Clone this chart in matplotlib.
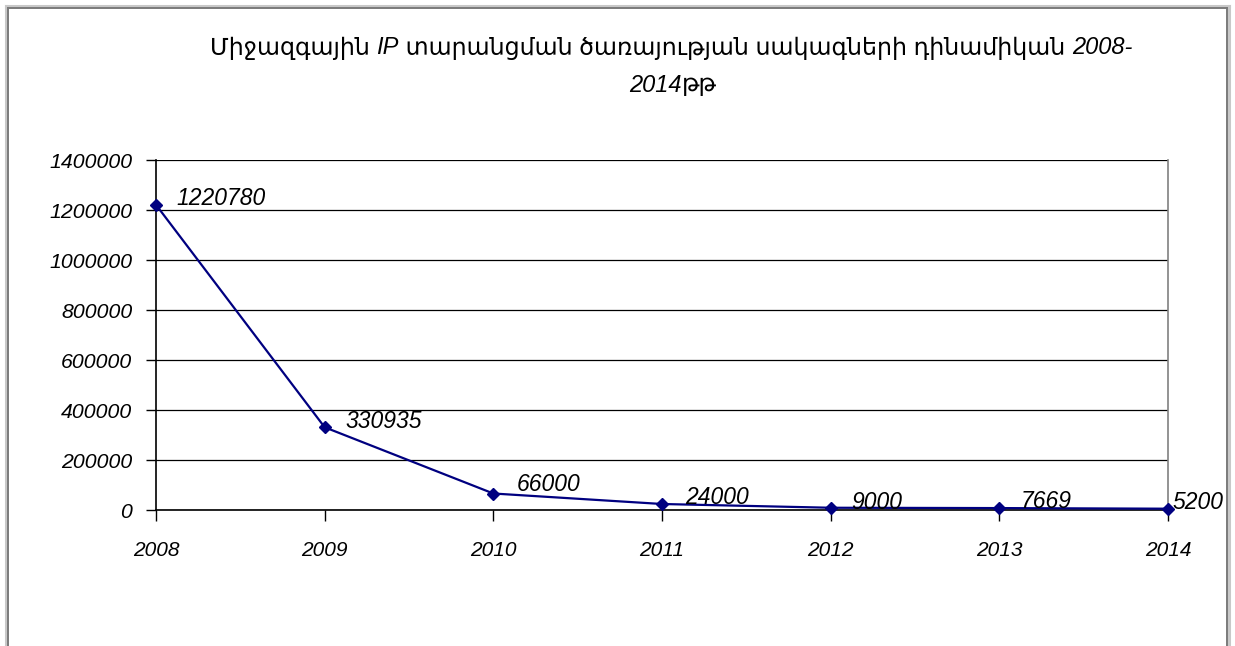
import matplotlib
matplotlib.use("Agg")
import matplotlib.pyplot as plt
from matplotlib.lines import Line2D

years = [2008, 2009, 2010, 2011, 2012, 2013, 2014]
rates = [1220780, 330935, 66000, 24000, 9000, 7669, 5200]
yticks = [0, 200000, 400000, 600000, 800000, 1000000, 1200000, 1400000]

FAM = ['Liberation Sans', 'DejaVu Sans']
plt.rcParams['font.family'] = FAM

W, H = 1235, 646
fig = plt.figure(figsize=(W / 100, H / 100), dpi=100)
fig.patch.set_facecolor('white')

# outer frame (like the embedded chart border)
def fx(px):
    return px / W
def fy(py):
    return 1 - py / H
for off, col, lw in [(6, '#c8c8c8', 2.2), (8, '#7a7a7a', 1.4)]:
    x0, x1 = fx(off), fx(W - off)
    y0 = fy(off)
    fig.add_artist(Line2D([x0, x1], [y0, y0], color=col, lw=lw, transform=fig.transFigure))
    fig.add_artist(Line2D([x0, x0], [y0, -0.01], color=col, lw=lw, transform=fig.transFigure))
    fig.add_artist(Line2D([x1, x1], [y0, -0.01], color=col, lw=lw, transform=fig.transFigure))

ax = fig.add_axes([fx(156), fy(510), fx(1168) - fx(156), fy(160) - fy(510)])
ax.set_xlim(years[0], years[-1])
ax.set_ylim(0, 1400000)
ax.set_yticks(yticks)
ax.set_yticklabels([str(v) for v in yticks], fontsize=15.3, fontstyle='italic')
ax.set_xticks(years)
ax.set_xticklabels([str(y) for y in years], fontsize=15, fontstyle='italic')
ax.grid(axis='y', color='black', lw=0.9)
ax.set_axisbelow(True)
for s in ['left', 'bottom']:
    ax.spines[s].set_color('black')
    ax.spines[s].set_linewidth(1.2)
ax.spines['top'].set_visible(False)
ax.spines['right'].set_color('#808080')
ax.spines['right'].set_linewidth(1.2)
ax.tick_params(axis='y', direction='out', length=7, width=1, pad=10)
ax.tick_params(axis='x', direction='out', length=8, width=1, pad=14)

ax.plot(years, rates, color='#000080', lw=1.6, marker='D', markersize=6,
        markerfacecolor='#000080', markeredgecolor='#000080', clip_on=False, zorder=5)

offsets = [(20, 6), (21, 6), (23, 9), (23, 7), (21, 5), (21, 7), (4, 6)]
for x, y, (dx, dy) in zip(years, rates, offsets):
    ax.annotate(str(y), (x, y), xytext=(dx, dy), textcoords='offset pixels',
                ha='left', va='center', fontsize=16.5, fontstyle='italic', zorder=6)

# title with mixed italic segments
def draw_line(parts, cy, cx):
    r = fig.canvas.get_renderer()
    texts = []
    for s, it in parts:
        t = fig.text(0, fy(cy), s, fontsize=17, fontstyle='italic' if it else 'normal',
                     ha='left', va='center', family=FAM)
        texts.append(t)
    widths = [t.get_window_extent(r).width for t in texts]
    total = sum(widths)
    x = cx - total / 2
    for t, w in zip(texts, widths):
        t.set_x(fx(x))
        x += w

draw_line([("Միջազգային ", False), ("IP", True),
           (" տարանցման ծառայության սակագների դինամիկան ", False), ("2008-", True)], 48, 671)
draw_line([("2014", True), ("թթ", False)], 85, 673)

fig.savefig('out.png', dpi=100)
